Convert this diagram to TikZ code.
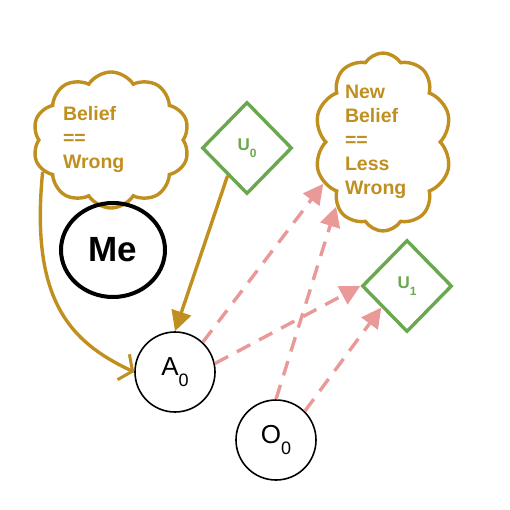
\documentclass[tikz,border=0pt]{standalone}
\usepackage{fontspec}
\setmainfont{Liberation Sans}
\usepackage{tikz}
\usetikzlibrary{shapes.symbols,shapes.geometric,arrows.meta}
\definecolor{beliefgold}{RGB}{191,144,32}
\definecolor{utilgreen}{RGB}{106,168,79}
\definecolor{linkpink}{RGB}{234,153,153}
\newcommand{\lowsub}[2]{\raisebox{-0.4em}{\fontsize{#1}{#1}\selectfont #2}}
\tikzstyle{belief}=[cloud,cloud puffs=10,cloud puff arc=115,cloud ignores aspect,draw=beliefgold,line width=3.4pt,text=beliefgold,align=left,font=\fontsize{19.5}{24}\selectfont\bfseries,inner sep=0pt]
\tikzstyle{util}=[diamond,draw=utilgreen,line width=3.4pt,text=utilgreen,minimum width=90,minimum height=92,inner sep=0pt,font=\fontsize{17}{17}\selectfont\bfseries]
\tikzstyle{var}=[circle,draw=black,line width=1.6pt,minimum size=80,inner sep=0pt,font=\fontsize{26}{26}\selectfont]
\tikzstyle{self}=[ellipse,draw=black,line width=4pt,minimum width=104,minimum height=94,font=\fontsize{35}{35}\selectfont\bfseries]
\tikzstyle{infl}=[draw=beliefgold,line width=3.4pt]
\tikzstyle{info}=[draw=linkpink,line width=3.4pt,dash pattern=on 15pt off 10pt,-{Triangle[length=20pt,width=20pt]}]

\begin{document}
\begin{tikzpicture}[x=1pt,y=-1pt]
		\useasboundingbox (0,0) rectangle (510,510);
		\node[belief,minimum width=157,minimum height=136,text width=96](b0) at (111,140){Belief\\==\\Wrong};
		\node[self](me) at (113,250){Me};
		\node[util](u0) at (247,148){U\lowsub{12}{0}};

		\node[belief,minimum width=137,minimum height=178,text width=76](b1) at (383,142){New\\Belief\\==\\Less\\Wrong};
		\node[util](u1) at (407,286){U\lowsub{12}{1}};

		\node[var](a0) at (175,372){A\lowsub{18}{0}};
		\node[var](o0) at (276,440){O\lowsub{18}{0}};
% belief feeds the action
		\draw[infl,-{Straight Barb[length=10pt,width=28pt,line width=3pt]}] (b0.205) .. controls (30,300) and (70,342) .. (a0.west);
		\draw[infl,-{Triangle[length=20pt,width=20pt]}] (u0.235) -- (a0.north);
% action and observation to new belief and utility
		\draw[info] (a0.47) -- (b1.215);
		\draw[info] (a0.12) -- (u1.west);
		\draw[info] (o0.north) -- (b1.234);
		\draw[info] (o0.45) -- (u1.220);
	\end{tikzpicture}
\end{document}
